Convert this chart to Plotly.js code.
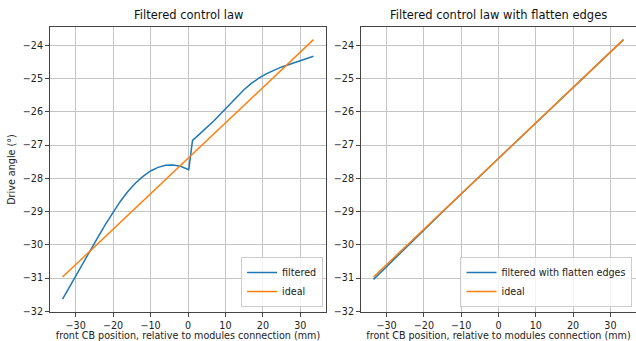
<!DOCTYPE html>
<html>
<head>
<meta charset="utf-8">
<script src="https://cdn.plot.ly/plotly-3.0.1.min.js"></script>
<style>html,body{margin:0;padding:0;background:#fff}#chart{width:636px;height:341px}</style>
</head>
<body>
<div id="chart"></div>
<script>
// ---- data ----
const idealX = [-33.5, -20, -10, 0, 10, 20, 33.5];
const idealY = [-30.97, -29.53, -28.47, -27.40, -26.33, -25.27, -23.83];

const filteredX = [-33.5, -32, -30, -28, -26, -24, -22, -20, -18, -16, -14, -12, -10, -8, -6, -4, -2, 0.2, 1.2, 3, 5, 7, 9, 11, 13, 15, 17, 19, 21, 23, 25, 27, 29, 31, 33.5];
const filteredY = [-31.63, -31.33, -30.93, -30.53, -30.14, -29.76, -29.38, -29.01, -28.68, -28.39, -28.14, -27.94, -27.78, -27.67, -27.61, -27.60, -27.64, -27.74, -26.86, -26.68, -26.48, -26.26, -26.03, -25.79, -25.55, -25.33, -25.14, -24.98, -24.85, -24.74, -24.65, -24.58, -24.51, -24.44, -24.33];

const flatX = [-33.5, -30, -25, -20, -15, -10, 0, 10, 20, 33.5];
const flatY = [-31.04, -30.65, -30.10, -29.56, -29.01, -28.47, -27.40, -26.33, -25.27, -23.83];

const xTicks = [-30, -20, -10, 0, 10, 20, 30];
const yTicks = [-32, -31, -30, -29, -28, -27, -26, -25, -24];

const titles = ["Filtered control law", "Filtered control law with flatten edges"];
const xTitle = "front CB position, relative to modules connection (mm)";
const yTitle = "Drive angle (°)";

// ---- styling ----
const BLUE = '#1f77b4', ORANGE = '#ff7f0e';
const FONT = 'DejaVu Sans, sans-serif';
const FS = 9.6;

const traces = [
  {x: filteredX, y: filteredY, name: 'filtered', mode: 'lines', line: {color: BLUE, width: 1.5}, xaxis: 'x', yaxis: 'y', legend: 'legend'},
  {x: idealX, y: idealY, name: 'ideal', mode: 'lines', line: {color: ORANGE, width: 1.5}, xaxis: 'x', yaxis: 'y', legend: 'legend'},
  {x: flatX, y: flatY, name: 'filtered with flatten edges', mode: 'lines', line: {color: BLUE, width: 1.5}, xaxis: 'x2', yaxis: 'y2', legend: 'legend2'},
  {x: idealX, y: idealY, name: 'ideal', mode: 'lines', line: {color: ORANGE, width: 1.5}, xaxis: 'x2', yaxis: 'y2', legend: 'legend2'}
];

const axisCommon = {
  showgrid: true, gridcolor: '#c4c4c4', gridwidth: 1,
  zeroline: false, showline: true, linecolor: '#444', linewidth: 1,
  ticks: 'outside', ticklen: 4, tickcolor: '#444', tickwidth: 1,
  tickfont: {family: FONT, size: FS, color: '#222'},
  automargin: false
};

const xRange = [-36.85, 36.85];
const yRange = [-32.02, -23.45];

const legendCommon = {
  bgcolor: 'rgba(255,255,255,0.8)', bordercolor: '#cccccc', borderwidth: 1,
  font: {family: FONT, size: FS, color: '#222'},
  xanchor: 'right', yanchor: 'bottom', tracegroupgap: 0
};

const layout = {
  width: 636, height: 341,
  margin: {l: 50, r: 0, t: 27, b: 29, pad: 0},
  paper_bgcolor: '#fff', plot_bgcolor: '#fff',
  font: {family: FONT, size: FS, color: '#222'},
  xaxis: Object.assign({}, axisCommon, {domain: [0, 0.471], range: xRange, tickvals: xTicks, mirror: true,
    title: {text: xTitle, font: {family: FONT, size: FS, color: '#222'}, standoff: 3}}),
  yaxis: Object.assign({}, axisCommon, {domain: [0, 1], range: yRange, tickvals: yTicks, mirror: true,
    title: {text: yTitle, font: {family: FONT, size: FS, color: '#222'}, standoff: 5}}),
  xaxis2: Object.assign({}, axisCommon, {domain: [0.5307, 1], range: xRange, tickvals: xTicks, mirror: true, anchor: 'y2',
    title: {text: xTitle, font: {family: FONT, size: FS, color: '#222'}, standoff: 3}}),
  yaxis2: Object.assign({}, axisCommon, {domain: [0, 1], range: yRange, tickvals: yTicks, mirror: false, anchor: 'x2'}),
  legend: Object.assign({}, legendCommon, {x: 0.466, y: 0.0175}),
  legend2: Object.assign({}, legendCommon, {x: 0.994, y: 0.0175}),
  showlegend: true,
  annotations: [
    {text: titles[0], xref: 'paper', yref: 'paper', x: 0.2355, xanchor: 'center', y: 1, yanchor: 'bottom', yshift: 3, showarrow: false,
     font: {family: FONT, size: 11.5, color: '#111'}},
    {text: titles[1], xref: 'paper', yref: 'paper', x: 0.7653, xanchor: 'center', y: 1, yanchor: 'bottom', yshift: 3, showarrow: false,
     font: {family: FONT, size: 11.5, color: '#111'}}
  ]
};

Plotly.newPlot('chart', traces, layout, {displayModeBar: false, staticPlot: true});
</script>
</body>
</html>
